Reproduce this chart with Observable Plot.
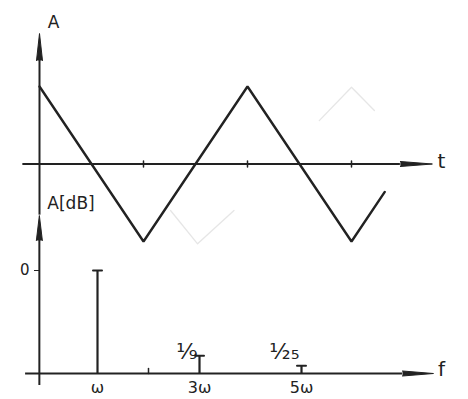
<!DOCTYPE html>
<html>
<head>
<meta charset="utf-8">
<script src="https://cdn.jsdelivr.net/npm/d3@7"></script>
<script src="https://cdn.jsdelivr.net/npm/@observablehq/plot@0.6"></script>
<style>
  html, body { margin: 0; padding: 0; background: #fff; }
  #chart { position: relative; width: 468px; height: 399px; background: #fff; overflow: hidden; }
  #chart svg { position: absolute; left: 0; top: 0; background: transparent !important; }
</style>
</head>
<body>
<div id="chart"></div>
<script>
// Triangle wave: one vertex per half period
const waveT = [0, 1, 2, 3, 3.32];
const waveA = [1, -1, 1, -1, -0.36];
// Half-period ticks on the t axis
const timeTicks = [1, 2, 3];
// Faint strokes showing through from the reverse of the sheet
const backT = [[2.69, 3.0, 3.22], [1.26, 1.52, 1.87]];
const backA = [[0.56, 0.99, 0.69], [-0.60, -1.03, -0.60]];

// Line spectrum: odd harmonics of ω and their relative amplitudes
const harmonics = [1, 3, 5];
const amplitudes = [1, 1 / 9, 1 / 25];
const harmonicLabels = ["ω", "3ω", "5ω"];
// Unlabelled tick on the f axis
const freqTicks = [2];

const INK = "#222";
const FONT = "'DejaVu Sans', sans-serif";
const baseStyle = { background: "transparent", fontFamily: FONT, fontSize: "15px", color: INK };

// Vector shapes: a short stem for ticks, a horizontal cap on top of each line
const stemShape = { draw(context, l) { context.moveTo(0, 0); context.lineTo(0, -l); } };
const capShape = { draw(context, l) { context.moveTo(-l / 2, 0); context.lineTo(l / 2, 0); } };

// Diagonal fraction 1/n written with super- and subscript digits
const SUP = "⁰¹²³⁴⁵⁶⁷⁸⁹", SUB = "₀₁₂₃₄₅₆₇₈₉";
const fraction = (num, den) =>
  [...String(num)].map(c => SUP[c]).join("") + "⁄" + [...String(den)].map(c => SUB[c]).join("");

// ---- time signal ----
const wave = waveT.map((t, i) => ({ t, a: waveA[i] }));
const back = backT.flatMap((ts, k) => ts.map((t, i) => ({ t, a: backA[k][i], k })));

// axis extents in data units
const tAxisStart = -0.16, tArrowBase = 3.47, aArrowBase = 1.335, aAxisLow = -0.66;

const timePlot = Plot.plot({
  width: 468, height: 399, margin: 0,
  style: baseStyle,
  x: { domain: [0, 3], range: [39, 351], axis: null },
  y: { domain: [-1, 1], range: [241, 86], axis: null },
  marks: [
    Plot.line(back, { x: "t", y: "a", z: "k", stroke: "#e6e6e6", strokeWidth: 1.3 }),
    Plot.ruleY([0], { x1: tAxisStart, x2: tArrowBase, stroke: INK, strokeWidth: 2 }),
    Plot.vector([0], { x: tArrowBase, y: 0, length: 32, rotate: 90, anchor: "start", shape: "spike", r: 2.5, fill: INK, stroke: INK, strokeWidth: 1 }),
    Plot.ruleX([0], { y1: aAxisLow, y2: aArrowBase, stroke: INK, strokeWidth: 2 }),
    Plot.vector([0], { x: 0, y: aArrowBase, length: 27, rotate: 0, anchor: "start", shape: "spike", r: 3, fill: INK, stroke: INK, strokeWidth: 1 }),
    Plot.vector(timeTicks, { x: d => d, y: 0, length: 6, anchor: "middle", shape: stemShape, stroke: INK, strokeWidth: 1.5 }),
    Plot.line(wave, { x: "t", y: "a", stroke: INK, strokeWidth: 2.4, strokeLinejoin: "miter" }),
    Plot.text(["A"], { x: 0, y: aArrowBase, dx: 14, dy: -38, fontSize: 17 }),
    Plot.text(["t"], { x: tArrowBase, y: 0, dx: 41, dy: -2, fontSize: 20 })
  ]
});

// ---- spectrum ----
const spectrum = harmonics.map((f, i) => ({ f, amp: amplitudes[i] }));
const partials = spectrum.filter(d => d.amp < 1);

const fOrigin = -0.14, fAxisStart = -0.41, fArrowBase = 6.98, ampAxisLow = -0.068, ampArrowBase = 1.376;

const spectrumPlot = Plot.plot({
  width: 468, height: 399,
  marginLeft: 39, marginBottom: 26, marginTop: 0, marginRight: 0,
  style: baseStyle,
  x: { domain: [1, 5], range: [97, 301] },
  y: { type: "pow", exponent: 0.8, domain: [0, 1], range: [373, 270] },
  marks: [
    Plot.ruleY([0], { x1: fAxisStart, x2: fArrowBase, stroke: INK, strokeWidth: 2 }),
    Plot.vector([0], { x: fArrowBase, y: 0, length: 31, rotate: 90, anchor: "start", shape: "spike", r: 2.5, fill: INK, stroke: INK, strokeWidth: 1 }),
    Plot.ruleX([fOrigin], { y1: ampAxisLow, y2: ampArrowBase, stroke: INK, strokeWidth: 2 }),
    Plot.vector([0], { x: fOrigin, y: ampArrowBase, length: 25, rotate: 0, anchor: "start", shape: "spike", r: 3, fill: INK, stroke: INK, strokeWidth: 1 }),
    Plot.vector(freqTicks, { x: d => d, y: 0, length: 5, anchor: "start", shape: stemShape, stroke: INK, strokeWidth: 1.5 }),
    Plot.ruleX(spectrum, { x: "f", y1: 0, y2: "amp", stroke: INK, strokeWidth: 2.2 }),
    Plot.vector(spectrum, { x: "f", y: "amp", length: 9, anchor: "start", shape: capShape, stroke: INK, strokeWidth: 2 }),
    Plot.axisY({ ticks: [1], tickFormat: d => `${Math.round(20 * Math.log10(d))}`, tickSize: 5, tickPadding: 5, anchor: "left", label: null, fontSize: 15 }),
    Plot.axisX({ ticks: harmonics, tickFormat: d => harmonicLabels[harmonics.indexOf(d)], tickSize: 0, tickPadding: 8, anchor: "bottom", label: null, fontSize: 16 }),
    // 1/n beside each overtone line
    Plot.text(partials, { x: "f", y: 0, text: d => fraction(1, Math.round(1 / d.amp)), dx: -2, dy: -22, textAnchor: "end", fontSize: 22 }),
    Plot.text(["A[dB]"], { x: fOrigin, y: ampArrowBase, dx: 8, dy: -37, textAnchor: "start", fontSize: 17 }),
    Plot.text(["f"], { x: fArrowBase, y: 0, dx: 39, dy: -4, fontSize: 20 })
  ]
});

const chart = document.getElementById("chart");
chart.append(timePlot, spectrumPlot);
</script>
</body>
</html>
